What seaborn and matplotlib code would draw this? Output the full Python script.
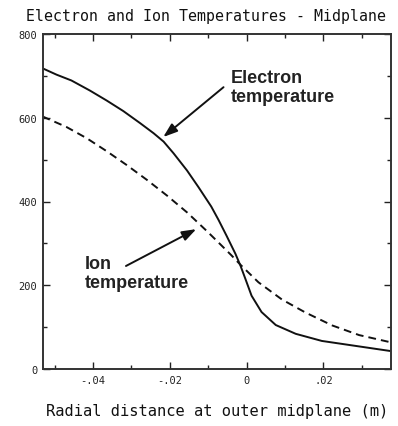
import matplotlib
matplotlib.use("Agg")
import matplotlib.pyplot as plt
from matplotlib.ticker import MultipleLocator, FuncFormatter
import numpy as np
import pandas as pd
import seaborn as sns

# Radial profiles at the outer midplane (x in m, T in eV)
x_electron = [-0.0531, -0.0495, -0.0456, -0.0408, -0.0364, -0.0321, -0.0277, -0.0242,
              -0.0216, -0.0190, -0.0155, -0.0125, -0.0092, -0.0073, -0.0052, -0.0029,
              -0.0016, -0.0003, 0.0013, 0.0039, 0.0076, 0.0128, 0.0196, 0.0285, 0.0374]
t_electron = [718, 703, 689, 665, 641, 616, 587, 563,
              543, 515, 474, 434, 388, 356, 318, 275,
              247, 215, 175, 136, 105, 84, 67, 55, 43]

x_ion = [-0.0531, -0.0469, -0.0416, -0.0364, -0.0312, -0.0260, -0.0207, -0.0155,
         -0.0103, -0.0073, -0.0040, -0.0016, 0.0031, 0.0092, 0.0153, 0.0223,
         0.0293, 0.0374]
t_ion = [603, 578, 551, 520, 487, 452, 414, 374,
         329, 302, 272, 249, 207, 166, 135, 104,
         81, 64]

series_names = ["Electron", "Ion"]

sns.set_style("ticks")
plt.rcParams["font.family"] = ["DejaVu Sans Mono", "DejaVu Sans"]

df = pd.concat([
    pd.DataFrame({"x": x_electron, "T": t_electron, "species": series_names[0]}),
    pd.DataFrame({"x": x_ion, "T": t_ion, "species": series_names[1]}),
], ignore_index=True)

fig = plt.figure(figsize=(3.98, 4.27), dpi=100)
ax = fig.add_axes([43 / 398, 1 - 370 / 427, (391 - 43) / 398, (370 - 35) / 427])

sns.lineplot(data=df, x="x", y="T", hue="species", style="species",
             palette=["#111111", "#111111"], dashes=[(1, 0), (4, 2.6)],
             linewidth=1.4, legend=False, sort=False, ax=ax)
for line in ax.lines:
    line.set_solid_joinstyle("round")
    line.set_dash_joinstyle("round")

ax.set_xlim(-0.053, 0.0376)
ax.set_ylim(0, 800)

ax.xaxis.set_major_locator(MultipleLocator(0.02))
ax.xaxis.set_minor_locator(MultipleLocator(0.01))
ax.yaxis.set_major_locator(MultipleLocator(200))
ax.yaxis.set_minor_locator(MultipleLocator(100))


def short_fmt(v, pos):
    if abs(v) < 1e-12:
        return "0"
    s = f"{v:.2f}"
    return s.replace("0.", ".", 1)


ax.xaxis.set_major_formatter(FuncFormatter(short_fmt))
ax.yaxis.set_major_formatter(FuncFormatter(lambda v, p: f"{v:.0f}"))

ax.tick_params(which="both", direction="in", top=True, right=True,
               colors="#222222", labelsize=7.5, width=1.0)
ax.tick_params(which="major", length=5, pad=4)
ax.tick_params(which="minor", length=3)
for sp in ax.spines.values():
    sp.set_linewidth(1.4)
    sp.set_color("#333333")

ax.set_xlabel("Radial distance at outer midplane (m)", fontsize=11.1,
              labelpad=13, color="#111111")
ax.set_ylabel("")
ax.set_title("Electron and Ion Temperatures - Midplane", fontsize=10.7,
             pad=10, color="#111111", x=0.468)

label_font = dict(family=["Liberation Sans", "DejaVu Sans"], fontweight="bold",
                  fontsize=13, color="#222222", linespacing=1.2)
arrow_kw = dict(arrowstyle="-|>,head_length=0.85,head_width=0.3",
                color="#111111", lw=1.4, mutation_scale=10,
                shrinkA=0, shrinkB=0)

ax.text(-0.0042, 673, "Electron\ntemperature", ha="left", va="center", **label_font)
ax.annotate("", xy=(-0.0217, 554), xytext=(-0.0060, 673), arrowprops=arrow_kw)

ax.text(-0.0421, 229, "Ion\ntemperature", ha="left", va="center", **label_font)
ax.annotate("", xy=(-0.0131, 334), xytext=(-0.0314, 246), arrowprops=arrow_kw)

fig.savefig("out.png", dpi=100)
